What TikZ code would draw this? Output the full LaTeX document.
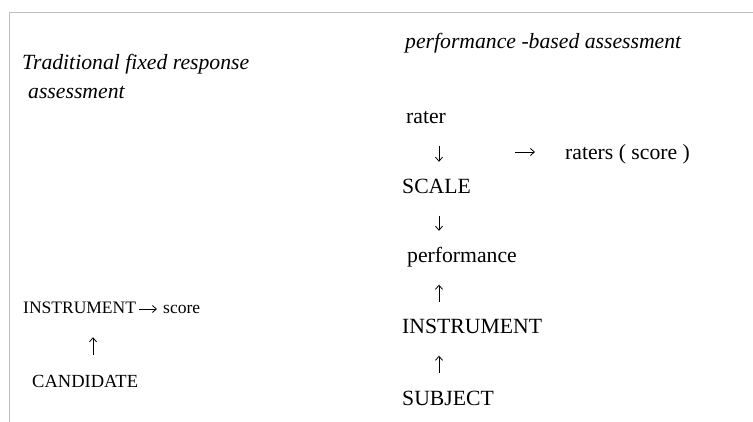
\documentclass[tikz,border=0pt]{standalone}
\usepackage{fontspec}
\setmainfont{Liberation Serif}
\usepackage{tikz}
\usetikzlibrary{arrows.meta}

\tikzset{
  word/.style={anchor=base west, inner sep=0pt, font=\fontsize{21.7}{26}\selectfont,
    text height=15pt, text depth=4.5pt},
  headword/.style={word, font=\fontsize{21.7}{26}\selectfont\itshape},
  smallword/.style={word, font=\fontsize{17.5}{21}\selectfont, text height=12pt, text depth=4pt},
  flowarrow/.style={-{Straight Barb[length=4pt,width=7pt]}, line width=0.8pt,
    shorten >=17pt, shorten <=17pt},
}

\begin{document}
\begin{tikzpicture}[x=1pt, y=-1pt]
    \useasboundingbox (0,0) rectangle (753,422);

    % frame
    \draw[black!25, line width=1pt] (753,13) -- (9,13) -- (9,422);

    % traditional fixed response
    \node[headword] (tradA) at (22,70) {Traditional fixed response};
    \node[headword] (tradB) at (28,99) {assessment};
    \node[smallword] (linstr) at (23,313) {INSTRUMENT};
    \node[smallword] (lscore) at (163,313) {score};
    \node[smallword, font=\fontsize{18.5}{22}\selectfont] (cand) at (32,388) {CANDIDATE};
    \coordinate (lcol) at (93,0);

    \draw[flowarrow, shorten <=3pt, shorten >=6pt] (linstr.east) -- (lscore.west);
    \draw[flowarrow, shorten <=21pt, shorten >=20pt] (cand.north -| lcol) -- (linstr.south -| lcol);

    % performance-based
    \node[headword] (perfhead) at (405,49) {performance -based assessment};
    \node[word] (rater) at (406,124) {rater};
    \node[word] (raters) at (565,160) {raters ( score )};
    \node[word] (scale) at (402,194) {SCALE};
    \node[word] (perf) at (407,263) {performance};
    \node[word] (rinstr) at (402,334) {INSTRUMENT};
    \node[word] (subj) at (402,405) {SUBJECT};
    \coordinate (rcol) at (439,0);
    \coordinate (rtail) at (515,152);

    \draw[flowarrow] (rater.south -| rcol) -- (scale.north -| rcol);
    \draw[flowarrow] (scale.south -| rcol) -- (perf.north -| rcol);
    \draw[flowarrow] (rinstr.north -| rcol) -- (perf.south -| rcol);
    \draw[flowarrow] (subj.north -| rcol) -- (rinstr.south -| rcol);
    \draw[flowarrow, shorten <=0pt, shorten >=30pt] (rtail) -- (raters.west |- rtail);

\end{tikzpicture}
\end{document}
